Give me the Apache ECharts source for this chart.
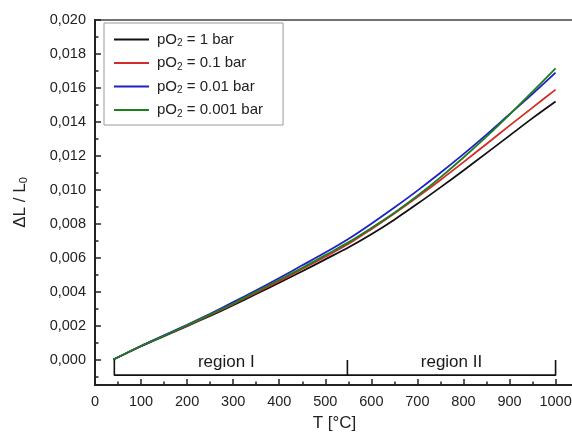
<!DOCTYPE html>
<html>
<head>
<meta charset="utf-8">
<script src="https://cdn.jsdelivr.net/npm/echarts@6/dist/echarts.min.js"></script>
<style>html,body{margin:0;padding:0;background:#fff}#c{width:572px;height:440px}</style>
</head>
<body>
<div id="c"></div>
<script>
// ---- data ----
var temps = [40, 100, 150, 200, 250, 300, 350, 400, 450, 500, 550, 600, 650, 700, 750, 800, 850, 900, 950, 1000];
var pressures = ['1', '0.1', '0.01', '0.001'];
var seriesColors = ['#111111', '#d42a2a', '#1f1fc8', '#1e7f1e'];
var dl_1bar   = [0, 0.00078, 0.00138, 0.00197, 0.00257, 0.0032, 0.00386, 0.00453, 0.0052, 0.0059, 0.0066, 0.00738, 0.00824, 0.00917, 0.01014, 0.01114, 0.01216, 0.01319, 0.01422, 0.0152];
var dl_01bar  = [0, 0.0008, 0.0014, 0.0020, 0.00262, 0.00326, 0.00394, 0.00462, 0.00533, 0.00605, 0.0068, 0.00768, 0.0086, 0.00957, 0.01058, 0.01163, 0.0127, 0.01378, 0.01484, 0.0159];
var dl_001bar = [0, 0.0008, 0.00142, 0.00205, 0.0027, 0.00338, 0.00408, 0.0048, 0.00555, 0.0063, 0.0071, 0.0080, 0.00895, 0.00995, 0.0110, 0.0121, 0.01325, 0.01445, 0.01565, 0.0169];
var dl_0001bar= [0, 0.0008, 0.0014, 0.00202, 0.00265, 0.0033, 0.0040, 0.0047, 0.0054, 0.00615, 0.0069, 0.00775, 0.00865, 0.00965, 0.01073, 0.0119, 0.01313, 0.01443, 0.01578, 0.01715];
var allValues = [dl_1bar, dl_01bar, dl_001bar, dl_0001bar];
var xTicks = [0, 100, 200, 300, 400, 500, 600, 700, 800, 900, 1000];
var xMinorTicks = [50, 150, 250, 350, 450, 550, 650, 750, 850, 950];
var yTicks = [0, 0.002, 0.004, 0.006, 0.008, 0.010, 0.012, 0.014, 0.016, 0.018, 0.020];
var yMinorTicks = [-0.001, 0.001, 0.003, 0.005, 0.007, 0.009, 0.011, 0.013, 0.015, 0.017, 0.019];
var regionEdges = [42, 548, 1000];
var regionNames = ['region I', 'region II'];
var regionLabelX = [285, 774];
var bracketLow = -0.00092, bracketHigh = -0.00003, regionLabelY = -0.00018;

// ---- build ----
var xMin = 0, xMax = 1040, yMin = -0.0015, yMax = 0.020;
var axisColor = '#222';
var font = 'Liberation Sans, Arial, sans-serif';

var series = pressures.map(function (p, i) {
  return {
    name: 'pO2 = ' + p + ' bar',
    type: 'line',
    smooth: 0.3,
    showSymbol: false,
    symbol: 'none',
    lineStyle: { color: seriesColors[i], width: 1.8 },
    itemStyle: { color: seriesColors[i] },
    data: temps.map(function (t, k) { return [t, allValues[i][k]]; }),
    z: 3
  };
});

var bracketData = [
  [regionEdges[0], 0], [regionEdges[0], bracketLow], [regionEdges[1], bracketLow], [regionEdges[1], bracketHigh],
  [regionEdges[1], bracketLow], [regionEdges[2], bracketLow], [regionEdges[2], bracketHigh]
];
series.push({
  name: 'bracket', type: 'line', symbol: 'none', silent: true,
  lineStyle: { color: '#111', width: 1.6 }, data: bracketData, z: 2
});
series.push({
  name: 'regions', type: 'scatter', symbolSize: 1, silent: true,
  itemStyle: { color: 'rgba(0,0,0,0)' },
  label: { show: true, position: 'inside', formatter: '{b}', fontSize: 17, color: '#1a1a1a', textBorderWidth: 0, opacity: 1, fontFamily: font },
  data: regionNames.map(function (n, i) { return { name: n, value: [regionLabelX[i], regionLabelY] }; })
});

var fmt = function (v) { return (Math.abs(v) < 1e-12 ? 0 : v).toFixed(3).replace('.', ','); };

var option = {
  animation: false,
  backgroundColor: '#fff',
  textStyle: { fontFamily: font },
  grid: { left: 95, top: 20, width: 479, bottom: 55, outerBoundsMode: 'none', containLabel: false, show: true, borderColor: '#444', borderWidth: 1.5, backgroundColor: 'transparent' },
  legend: {
    data: series.slice(0, 4).map(function (s) { return s.name; }),
    orient: 'vertical', left: 104, top: 23,
    itemWidth: 35, itemHeight: 2, itemGap: 7, icon: 'rect',
    padding: [9, 20, 6, 10],
    borderColor: '#999', borderWidth: 1, backgroundColor: '#fff',
    formatter: function (name) {
      var p = name.replace('pO2 = ', '').replace(' bar', '');
      return '{t|pO}{s|2}{t| = ' + p + ' bar}';
    },
    textStyle: {
      padding: [0, 0, 0, 3],
      rich: {
        t: { fontSize: 15, color: '#222', fontFamily: font, lineHeight: 18 },
        s: { fontSize: 10, color: '#222', fontFamily: font, verticalAlign: 'bottom', lineHeight: 18, padding: [6, 0, 0, 0] }
      }
    }
  },
  xAxis: [{
    type: 'value', min: xMin, max: xMax,
    name: 'T [°C]', nameLocation: 'middle', nameGap: 30,
    nameTextStyle: { fontSize: 17, color: '#222', fontFamily: font },
    axisLine: { show: true, onZero: false, lineStyle: { color: axisColor, width: 2 } },
    axisTick: { show: true, inside: true, length: 6, customValues: xTicks, lineStyle: { color: axisColor, width: 1.5 } },
    axisLabel: { show: true, customValues: xTicks, fontSize: 14.5, color: '#222', margin: 9, fontFamily: font, formatter: function (v) { return String(v); } },
    splitLine: { show: false }
  }, {
    type: 'value', min: xMin, max: xMax, position: 'bottom',
    axisLine: { show: false, onZero: false },
    axisTick: { show: true, inside: true, length: 3.5, customValues: xMinorTicks, lineStyle: { color: axisColor, width: 1.5 } },
    axisLabel: { show: false }, splitLine: { show: false }
  }],
  yAxis: [{
    type: 'value', min: yMin, max: yMax,
    name: '{a|ΔL / L}{s|0}', nameLocation: 'middle', nameGap: 66, nameRotate: 90,
    nameTextStyle: { rich: { a: { fontSize: 17, color: '#222', fontFamily: font }, s: { fontSize: 11, color: '#222', fontFamily: font, padding: [6, 0, 0, 0] } } },
    axisLine: { show: true, onZero: false, lineStyle: { color: axisColor, width: 2 } },
    axisTick: { show: true, inside: true, length: 6, customValues: yTicks, lineStyle: { color: axisColor, width: 1.5 } },
    axisLabel: { show: true, customValues: yTicks, fontSize: 14.5, color: '#222', margin: 9, formatter: fmt, fontFamily: font },
    splitLine: { show: false }
  }, {
    type: 'value', min: yMin, max: yMax, position: 'left',
    axisLine: { show: false, onZero: false },
    axisTick: { show: true, inside: true, length: 3.5, customValues: yMinorTicks, lineStyle: { color: axisColor, width: 1.5 } },
    axisLabel: { show: false }, splitLine: { show: false }
  }],
  series: series
};

var chart = echarts.init(document.getElementById('c'), null, { renderer: 'canvas' });
chart.setOption(option);
</script>
</body>
</html>
